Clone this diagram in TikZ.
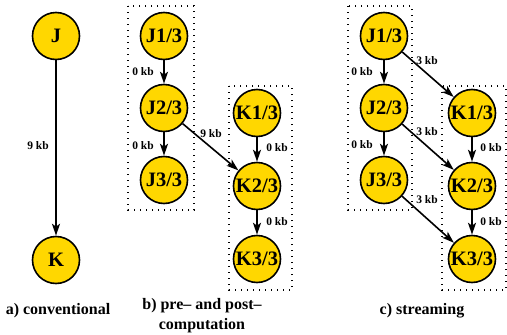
\documentclass[tikz,border=0pt]{standalone}
\usepackage{fontspec}
\setmainfont{Liberation Serif}[BoldFont={Liberation Serif Bold}]
\usetikzlibrary{arrows.meta}
\definecolor{gold}{RGB}{255,215,0}
\begin{document}
\begin{tikzpicture}[x=1pt,y=-1pt,
  task/.style={circle,draw,line width=1.6pt,fill=gold,minimum size=47pt,inner sep=0pt,font=\fontsize{20.5}{20.5}\selectfont\bfseries},
  lbl/.style={font=\fontsize{11.5}{12}\selectfont\bfseries,inner sep=0pt},
  captxt/.style={font=\fontsize{16}{20}\selectfont\bfseries,align=center,inner sep=0pt},
  flow/.style={line width=1.6pt,-{Stealth[length=12pt,width=8pt,inset=3pt]}},
  grp/.style={line width=1.3pt,dash pattern=on 1.3pt off 4.7pt}]
\useasboundingbox (0,0) rectangle (507,335);
% panel a
\node[task] (a-j) at (56,36) {J};
\node[task] (a-k) at (56,260) {K};
\draw[flow] (a-j) -- (a-k);
\node[lbl] (a-l) at (38,146) {9 kb};
\node[captxt] (a-cap) at (58,311) {a) conventional};
% panel b
\draw[grp] (128,6) rectangle (194,210);
\draw[grp] (229,86) rectangle (292,290);
\node[task] (b-j1) at (164,36) {J1/3};
\node[task] (b-j2) at (164,108) {J2/3};
\node[task] (b-j3) at (164,180) {J3/3};
\node[task] (b-k1) at (257,113) {K1/3};
\node[task] (b-k2) at (257,186) {K2/3};
\node[task] (b-k3) at (257,259) {K3/3};
\draw[flow] (b-j1) -- (b-j2);
\draw[flow] (b-j2) -- (b-j3);
\draw[flow] (b-k1) -- (b-k2);
\draw[flow] (b-k2) -- (b-k3);
\draw[flow] (b-j2) -- (b-k2);
\node[lbl] (b-l1) at (143,72) {0 kb};
\node[lbl] (b-l2) at (143,146) {0 kb};
\node[lbl] (b-l3) at (211,134) {9 kb};
\node[lbl] (b-l4) at (277,148) {0 kb};
\node[lbl] (b-l5) at (277,222) {0 kb};
\node[captxt] (b-cap) at (202,316) {b) pre– and post–\\computation};
% panel c
\draw[grp] (348,6) rectangle (412,210);
\draw[grp] (442,86) rectangle (506,290);
\node[task] (c-j1) at (384,36) {J1/3};
\node[task] (c-j2) at (384,108) {J2/3};
\node[task] (c-j3) at (384,180) {J3/3};
\node[task] (c-k1) at (472,113) {K1/3};
\node[task] (c-k2) at (472,186) {K2/3};
\node[task] (c-k3) at (472,259) {K3/3};
\draw[flow] (c-j1) -- (c-j2);
\draw[flow] (c-j2) -- (c-j3);
\draw[flow] (c-k1) -- (c-k2);
\draw[flow] (c-k2) -- (c-k3);
\draw[flow] (c-j1) -- (c-k1);
\draw[flow] (c-j2) -- (c-k2);
\draw[flow] (c-j3) -- (c-k3);
\node[lbl] (c-l1) at (362,72) {0 kb};
\node[lbl] (c-l2) at (362,145) {0 kb};
\node[lbl] (c-l3) at (427,61) {3 kb};
\node[lbl] (c-l4) at (427,132) {3 kb};
\node[lbl] (c-l5) at (427,200) {3 kb};
\node[lbl] (c-l6) at (491,148) {0 kb};
\node[lbl] (c-l7) at (491,222) {0 kb};
\node[captxt] (c-cap) at (422,311) {c) streaming};
\end{tikzpicture}
\end{document}
